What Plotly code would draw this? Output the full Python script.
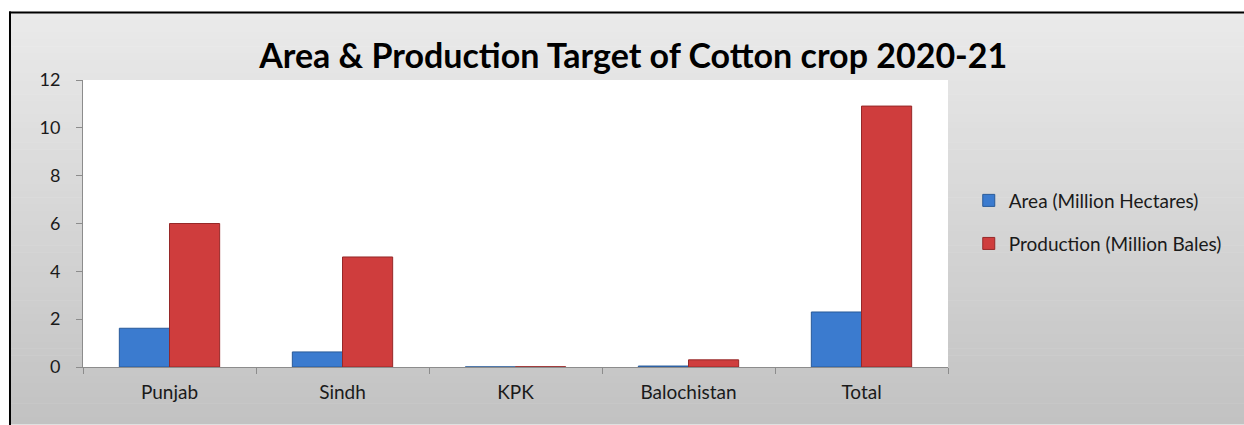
import plotly.graph_objects as go

# Cotton crop targets for 2020-21
provinces = ["Punjab", "Sindh", "KPK", "Balochistan", "Total"]
area_mha = [1.62, 0.63, 0.005, 0.04, 2.3]
production_mbales = [6.0, 4.6, 0.01, 0.3, 10.91]
y_ticks = [0, 2, 4, 6, 8, 10, 12]

FONT = "Lato"

fig = go.Figure()
fig.add_trace(go.Bar(
    name="Area (Million Hectares)", x=provinces, y=area_mha,
    marker=dict(color="#3b7bcf", line=dict(color="#285a99", width=1)),
    legend="legend",
))
fig.add_trace(go.Bar(
    name="Production (Million Bales)", x=provinces, y=production_mbales,
    marker=dict(color="#cf3d3d", line=dict(color="#962828", width=1)),
    legend="legend2",
))

# grey vertical gradient behind the chart, inside the outer frame
shapes = []
n = 60
top, bottom = 1.2355, -0.2
for i in range(n):
    t = i / (n - 1)
    g = round(234 - t * (234 - 194))
    h = (top - bottom) / n
    shapes.append(dict(type="rect", xref="paper", yref="paper", layer="below",
                       x0=-0.0844, x1=1.5, y0=top - (i + 1) * h,
                       y1=top - i * h + 0.002,
                       fillcolor=f"rgb({g},{g},{g})", line=dict(width=0)))
# plot area and outer frame
shapes.append(dict(type="rect", xref="paper", yref="paper", layer="below",
                   x0=0, x1=1, y0=0, y1=1, fillcolor="white", line=dict(width=0)))
shapes.append(dict(type="line", xref="paper", yref="paper", x0=-0.0844, x1=-0.0844,
                   y0=-0.3, y1=1.2385, line=dict(color="black", width=2)))
shapes.append(dict(type="line", xref="paper", yref="paper", x0=-0.0855, x1=1.5,
                   y0=1.2355, y1=1.2355, line=dict(color="black", width=2)))

fig.update_layout(
    width=1244, height=425,
    margin=dict(l=83, r=296, t=80, b=58),
    paper_bgcolor="white", plot_bgcolor="rgba(0,0,0,0)",
    barmode="group", bargap=0.42, bargroupgap=0,
    font=dict(family=FONT, size=19, color="#1a1a1a"),
    title=dict(text="<b>Area & Production Target of Cotton crop 2020-21</b>",
               x=0.509, xanchor="center", y=0.868, yanchor="middle",
               font=dict(family=FONT, size=34, color="black")),
    shapes=shapes,
    legend=dict(x=1.024, xanchor="left", y=0.58, yanchor="middle",
                bgcolor="rgba(0,0,0,0)", font=dict(size=19)),
    legend2=dict(x=1.024, xanchor="left", y=0.43, yanchor="middle",
                 bgcolor="rgba(0,0,0,0)", font=dict(size=19)),
    showlegend=True,
)
fig.update_xaxes(showline=True, linecolor="#8c8c8c", linewidth=1,
                 ticks="outside", tickson="boundaries", ticklen=6, tickcolor="#8c8c8c",
                 showgrid=False, tickfont=dict(size=19), ticklabelstandoff=8)
fig.update_yaxes(range=[0, 12], tickvals=y_ticks, showline=True, linecolor="#8c8c8c",
                 linewidth=1, ticks="outside", ticklen=6, tickcolor="#8c8c8c",
                 showgrid=False, zeroline=False, tickfont=dict(size=18),
                 ticklabelstandoff=12)

fig.write_html("out.html")
